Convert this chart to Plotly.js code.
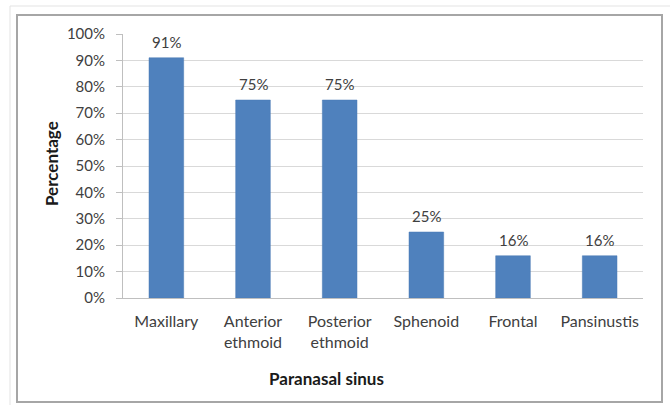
<!DOCTYPE html>
<html>
<head>
<meta charset="utf-8">
<script src="https://cdn.plot.ly/plotly-3.0.1.min.js"></script>
<style>
html,body{margin:0;padding:0;background:#fff;}
#chart{width:670px;height:405px;}
</style>
</head>
<body>
<div id="chart"></div>
<script>
const categories = ["Maxillary", "Anterior<br>ethmoid", "Posterior<br>ethmoid", "Sphenoid", "Frontal", "Pansinustis"];
const values = [91, 75, 75, 25, 16, 16];
const labels = ["91%", "75%", "75%", "25%", "16%", "16%"];
const yTickVals = [0, 10, 20, 30, 40, 50, 60, 70, 80, 90, 100];
const yTickText = ["0%", "10%", "20%", "30%", "40%", "50%", "60%", "70%", "80%", "90%", "100%"];

const L = 123, R = 643, T = 34, B = 298;
const W = 670, H = 405;
const pw = R - L, ph = B - T;
const px = x => (x - L) / pw;
const py = y => (B - y) / ph;

const font = "Lato, 'Open Sans', 'Liberation Sans', sans-serif";

const trace = {
  type: "bar",
  x: categories,
  y: values,
  marker: {color: "#4f81bd", line: {color: "#4a7ab5", width: 0.5}},
  hoverinfo: "none",
  width: 0.4
};

const annotations = categories.map((c, i) => ({
  x: c, y: values[i], xref: "x", yref: "y",
  text: labels[i], showarrow: false,
  yanchor: "bottom", yshift: 5,
  font: {family: font, size: 15, color: "#404040"}
}));
annotations.push({
  xref: "paper", yref: "paper", x: px(51), y: py(164),
  text: "<b>Percentage</b>", showarrow: false, textangle: -90,
  xanchor: "center", yanchor: "middle",
  font: {family: font, size: 17, color: "#1a1a1a"}
});
annotations.push({
  xref: "paper", yref: "paper", x: px(326), y: py(378),
  text: "<b>Paranasal sinus</b>", showarrow: false,
  xanchor: "center", yanchor: "middle",
  font: {family: font, size: 17, color: "#1a1a1a"}
});

const shapes = [
  {type: "rect", xref: "paper", yref: "paper", x0: px(10), x1: px(672), y0: py(410), y1: py(6),
   line: {color: "#e3e3e3", width: 1}, fillcolor: "rgba(0,0,0,0)", layer: "below"},
  {type: "rect", xref: "paper", yref: "paper", x0: px(17), x1: px(662), y0: py(402), y1: py(15),
   line: {color: "#a6a6a6", width: 2}, fillcolor: "rgba(0,0,0,0)", layer: "below"}
];

const layout = {
  width: W, height: H,
  margin: {l: L, r: W - R, t: T, b: H - B},
  paper_bgcolor: "#ffffff", plot_bgcolor: "#ffffff",
  showlegend: false,
  font: {family: font, size: 14, color: "#404040"},
  xaxis: {
    type: "category",
    showgrid: false, zeroline: false,
    showline: true, linecolor: "#bfbfbf", linewidth: 1,
    ticks: "", ticklabelstandoff: 9,
    tickfont: {family: font, size: 16, color: "#404040"},
    fixedrange: true
  },
  yaxis: {
    range: [0, 100],
    tickvals: yTickVals, ticktext: yTickText,
    showgrid: true, gridcolor: "#d9d9d9", gridwidth: 1,
    zeroline: false,
    showline: true, linecolor: "#bfbfbf", linewidth: 1,
    ticks: "outside", ticklen: 6, tickcolor: "#bfbfbf",
    ticklabelstandoff: 8,
    tickfont: {family: font, size: 15, color: "#404040"},
    fixedrange: true
  },
  annotations: annotations,
  shapes: shapes
};

Plotly.newPlot("chart", [trace], layout, {displayModeBar: false, staticPlot: true});
</script>
</body>
</html>
